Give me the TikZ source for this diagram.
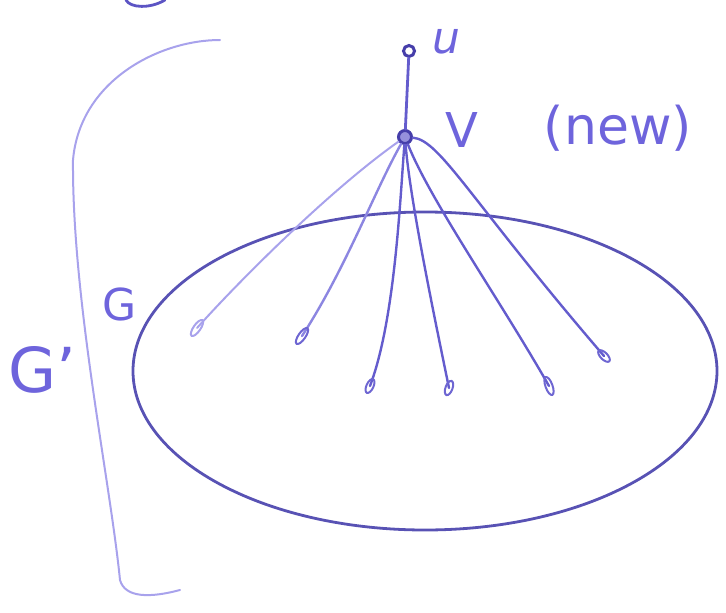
\documentclass[tikz,border=0pt]{standalone}
\usepackage{fontspec}
\setmainfont{DejaVu Sans}
\usetikzlibrary{shapes.geometric}
\begin{document}
\begin{tikzpicture}[x=1pt,y=-1pt,
  ink/.style={draw={rgb,255:red,92;green,84;blue,196}, line width=2.8pt, line cap=round},
  lightink/.style={draw={rgb,255:red,168;green,162;blue,236}, line width=2pt, line cap=round},
  edge/.style={draw={rgb,255:red,100;green,92;blue,205}, line width=2.4pt, line cap=round},
  vtx/.style={circle, draw={rgb,255:red,70;green,62;blue,170}, fill={rgb,255:red,150;green,144;blue,220}, line width=3pt, inner sep=0pt, minimum size=13pt},
  tip/.style={ellipse, draw={rgb,255:red,110;green,102;blue,210}, line width=2pt, inner sep=0pt, minimum width=7pt, minimum height=19pt},
  lbl/.style={text={rgb,255:red,110;green,100;blue,220}, inner sep=0pt}
]
\useasboundingbox (0,0) rectangle (726,613);
% top fragment
\draw[ink] (126,0) .. controls (130,8) and (150,9) .. (165,0);
% bracket G'
\draw[lightink] (220,40) .. controls (160,40) and (80,80) .. (73,160)
  .. controls (72,300) and (110,480) .. (120,580)
  .. controls (125,598) and (150,598) .. (180,590);
% ellipse G
\node[ellipse, draw={rgb,255:red,88;green,82;blue,180}, line width=2.8pt, minimum width=584pt, minimum height=318pt, inner sep=0pt] (G) at (425,371) {};
% vertices
\node[vtx, minimum size=11pt, fill=white] (u) at (409,51) {};
\node[vtx] (v) at (405,137) {};
\draw[edge, line width=2.8pt] (u) -- (v);
% labels
\node[lbl, font=\itshape\fontsize{44}{44}\selectfont] (lu) at (446,42) {u};
\node[lbl, font=\fontsize{48}{48}\selectfont] (lv) at (462,130) {V};
\node[lbl, font=\fontsize{52}{52}\selectfont] (lnew) at (618,128) {(new)};
\node[lbl, font=\fontsize{44}{44}\selectfont] (lG) at (120,304) {G};
\node[lbl, font=\fontsize{62}{62}\selectfont] (lGp) at (42,370) {G'};
% endpoints
\coordinate (e1) at (197,328);
\coordinate (e2) at (302,336);
\coordinate (e3) at (370,386);
\coordinate (e4) at (449,388);
\coordinate (e5) at (549,386);
\coordinate (e6) at (604,356);
\draw[lightink] (v) .. controls (330,190) and (240,280) .. (e1);
\draw[edge, draw={rgb,255:red,140;green,134;blue,225}] (v) .. controls (375,190) and (345,270) .. (e2);
\draw[edge] (v) .. controls (400,200) and (395,320) .. (e3);
\draw[edge] (v) .. controls (410,200) and (435,320) .. (e4);
\draw[edge] (v) .. controls (430,200) and (500,300) .. (e5);
\draw[edge] (v) .. controls (440,140) and (470,200) .. (e6);
% tips
\node[tip, rotate=-35, draw={rgb,255:red,168;green,162;blue,236}] (t1) at (e1) {};
\node[tip, rotate=-35] (t2) at (e2) {};
\node[tip, rotate=-25, minimum height=15pt] (t3) at (e3) {};
\node[tip, rotate=-20, minimum height=15pt] (t4) at (e4) {};
\node[tip, rotate=20] (t5) at (e5) {};
\node[tip, rotate=45, minimum height=15pt] (t6) at (e6) {};
\end{tikzpicture}
\end{document}
